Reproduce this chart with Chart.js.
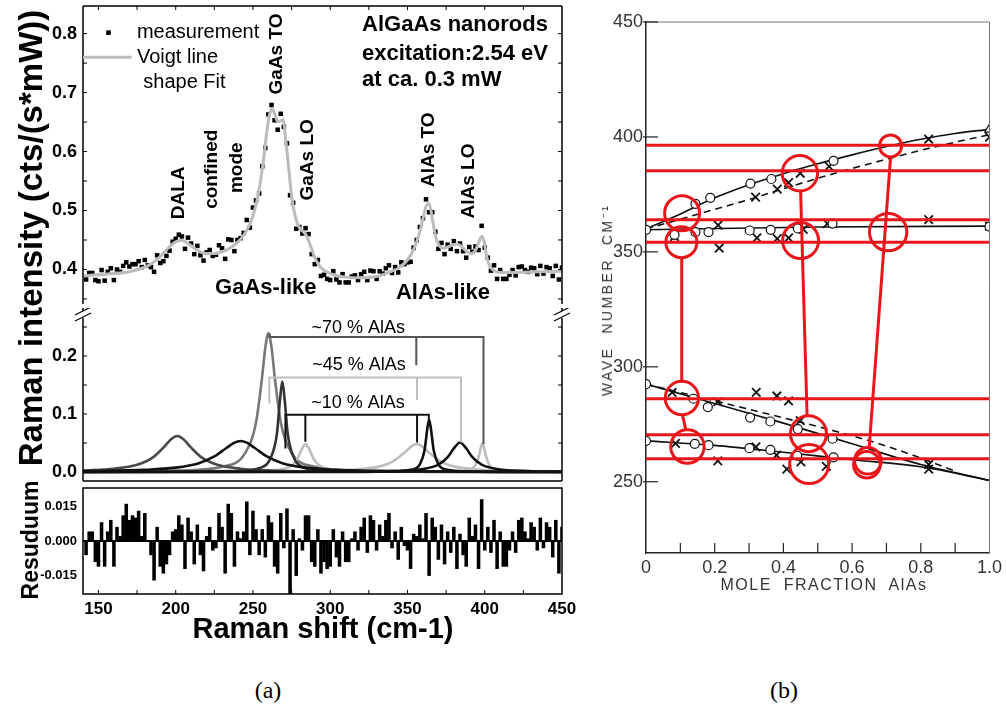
<!DOCTYPE html>
<html>
<head>
<meta charset="utf-8">
<script src="https://cdn.jsdelivr.net/npm/chart.js@4.4.1/dist/chart.umd.min.js"></script>
<style>
html,body{margin:0;padding:0;background:#fff;}
body{width:1006px;height:708px;position:relative;overflow:hidden;font-family:"Liberation Sans",Arial,sans-serif;}
canvas{position:absolute;}
.t{position:absolute;white-space:pre;transform:translate(-50%,-50%);color:#000;line-height:1;}
.v{transform:translate(-50%,-50%) rotate(-90deg);}
</style>
</head>
<body>
<canvas id="cTop" width="600" height="308" style="left:0;top:0;width:600px;height:308px"></canvas>
<canvas id="cMid" width="600" height="176" style="left:0;top:308px;width:600px;height:176px"></canvas>
<canvas id="cRes" width="600" height="164" style="left:0;top:486px;width:600px;height:164px"></canvas>
<canvas id="cB" width="450" height="600" style="left:560px;top:0;width:450px;height:600px"></canvas>
<div class="t v" style="left:30px;top:238px;font-weight:bold;font-size:33px">Raman intensity (cts/(s*mW))</div>
<div class="t v" style="left:30px;top:540px;font-weight:bold;font-size:23px">Resuduum</div>
<div class="t" style="left:323px;top:628px;font-weight:bold;font-size:29px">Raman shift (cm-1)</div>
<div class="t v" style="left:607px;top:300px;font-size:14px;letter-spacing:2.5px;color:#333">WAVE  NUMBER  CM⁻¹</div>
<div class="t" style="left:824px;top:585px;font-size:16px;letter-spacing:1.5px;color:#333">MOLE  FRACTION  AlAs</div>
<div class="t" style="left:268px;top:690px;font-family:'Liberation Serif',serif;font-size:24px">(a)</div>
<div class="t" style="left:784px;top:690px;font-family:'Liberation Serif',serif;font-size:24px">(b)</div>
<script>
// ================= DATA: panel (a) =================
const measX=[142,144,146,148,150,152,154,156,158,160,162,164,166,168,170,172,174,176,178,180,182,184,186,188,190,192,194,196,198,200,202,204,206,208,210,212,214,216,218,220,222,224,226,228,230,232,234,236,238,240,242,244,246,248,250,252,254,256,258,260,262,264,266,268,270,272,274,276,278,280,282,284,286,288,290,292,294,296,298,300,302,304,306,308,310,312,314,316,318,320,322,324,326,328,330,332,334,336,338,340,342,344,346,348,350,352,354,356,358,360,362,364,366,368,370,372,374,376,378,380,382,384,386,388,390,392,394,396,398,400,402,404,406,408,410,412,414,416,418,420,422,424,426,428,430,432,434,436,438,440,442,444,446,448,450];
const measY=[0.383,0.394,0.394,0.382,0.380,0.399,0.381,0.396,0.402,0.382,
0.400,0.396,0.406,0.412,0.405,0.409,0.409,0.414,0.404,0.416,
0.407,0.404,0.396,0.424,0.411,0.414,0.423,0.432,0.447,0.452,
0.459,0.456,0.435,0.454,0.444,0.426,0.440,0.424,0.415,0.429,
0.433,0.423,0.425,0.441,0.436,0.418,0.451,0.450,0.431,0.450,
0.453,0.462,0.484,0.471,0.505,0.517,0.529,0.575,0.606,0.663,
0.679,0.653,0.637,0.664,0.642,0.614,0.526,0.513,0.469,0.472,
0.461,0.470,0.460,0.426,0.409,0.416,0.389,0.391,0.384,0.382,
0.397,0.383,0.378,0.392,0.378,0.378,0.388,0.390,0.382,0.392,
0.396,0.382,0.398,0.397,0.384,0.397,0.393,0.402,0.407,0.394,
0.404,0.395,0.412,0.409,0.412,0.413,0.437,0.450,0.472,0.487,
0.519,0.497,0.497,0.464,0.435,0.445,0.426,0.442,0.435,0.448,
0.431,0.444,0.431,0.420,0.438,0.430,0.439,0.433,0.474,0.437,
0.420,0.398,0.407,0.384,0.399,0.384,0.384,0.391,0.399,0.390,
0.404,0.405,0.399,0.396,0.403,0.402,0.392,0.406,0.393,0.404,
0.402,0.389,0.406,0.383,0.403];
const fitX=[140,150,160,170,180,185,190,195,200,204,208,212,216,220,225,230,235,240,244,248,251,254,257,259,261,262.5,264,266,268,269.5,271,273,275,277,279,281,283,285,287,290,294,300,310,320,330,340,345,350,354,357,360,362,364,366,368,370,373,376,379,382,385,388,391,394,396,398,399.5,401,403,406,410,420,435,450];
const fitY=[0.389,0.391,0.393,0.396,0.404,0.411,0.422,0.436,0.447,0.449,0.444,0.436,0.430,0.427,0.427,0.430,0.436,0.446,0.458,0.477,0.500,0.535,0.590,0.635,0.665,0.673,0.664,0.651,0.652,0.654,0.625,0.575,0.525,0.494,0.476,0.468,0.463,0.455,0.442,0.420,0.403,0.393,0.387,0.386,0.388,0.397,0.404,0.416,0.434,0.455,0.486,0.507,0.512,0.487,0.458,0.443,0.436,0.438,0.441,0.443,0.439,0.431,0.427,0.432,0.445,0.456,0.449,0.425,0.407,0.398,0.395,0.395,0.396,0.397];
const resY=[-0.006,0.004,0.004,-0.009,-0.011,0.008,-0.011,0.004,0.009,-0.011,
0.006,0.002,0.011,0.016,0.009,0.011,0.010,0.013,0.002,0.012,
0.000,-0.006,-0.017,0.006,-0.011,-0.014,-0.010,-0.006,0.004,0.005,
0.011,0.007,-0.012,0.010,0.004,-0.010,0.007,-0.006,-0.013,0.002,
0.006,-0.004,-0.003,0.012,0.006,-0.014,0.016,0.012,-0.011,0.004,
0.001,0.004,0.017,-0.006,0.013,0.005,-0.006,0.005,-0.007,0.011,
0.008,-0.011,-0.014,0.012,-0.003,0.014,-0.024,0.005,-0.015,0.001,
-0.004,0.011,0.011,-0.009,-0.011,0.005,-0.014,-0.009,-0.012,-0.011,
0.005,-0.007,-0.011,0.004,-0.009,-0.009,0.001,0.004,-0.004,0.006,
0.010,-0.005,0.011,0.009,-0.004,0.007,0.002,0.009,0.012,-0.003,
0.004,-0.008,0.006,-0.002,-0.004,-0.012,0.003,0.002,0.007,0.001,
0.012,-0.015,0.010,0.006,-0.008,0.007,-0.010,0.004,-0.005,0.006,
-0.012,0.003,-0.006,-0.011,0.010,0.002,0.007,-0.012,0.018,-0.004,
0.006,-0.005,0.009,-0.012,0.004,-0.011,-0.011,-0.004,0.004,-0.005,
0.009,0.010,0.004,0.001,0.008,0.006,-0.004,0.010,-0.003,0.008,
0.006,-0.007,0.009,-0.014,0.006];
// fitted components (middle)
const cDalaX=[140,160,175,185,192,197,201,205,210,217,227,242,262,300,350,450];
const cDalaY=[0.0027,0.0057,0.0124,0.0247,0.0419,0.0566,0.062,0.0566,0.0419,0.0247,0.0124,0.0057,0.0027,0.001,0.0005,0.0002];
const cConfX=[140,180,200,215,225,233,238,242,246,251,259,269,284,304,344,450];
const cConfY=[0.0014,0.0037,0.0075,0.0152,0.0268,0.0418,0.0507,0.0535,0.0507,0.0418,0.0268,0.0152,0.0075,0.0037,0.0014,0.0004];
const cTO1X=[140,200,230,245,252,256,258,260,262,264,268,275,290,320,380,450];
const cTO1Y=[0.0006,0.0024,0.0092,0.033,0.086,0.1655,0.215,0.239,0.215,0.1655,0.086,0.033,0.0092,0.0024,0.0006,0.0003];
const cTO2X=[140,240,255,262,265.5,267.5,269,270.5,272.5,276,283,298,330,450];
const cTO2Y=[0.0001,0.0017,0.0073,0.0274,0.066,0.125,0.156,0.125,0.066,0.0274,0.0073,0.0017,0.0004,0.0001];
const cTO3X=[140,250,270,276,279,282,284,286,289,292,298,318,450];
const cTO3Y=[0.0001,0.001,0.0054,0.0135,0.024,0.0414,0.048,0.0414,0.024,0.0135,0.0054,0.001,0.0001];
const cAl1X=[140,280,310,330,340,348,353,356,359,364,372,382,402,432,450];
const cAl1Y=[0.0001,0.0012,0.0031,0.0084,0.0173,0.0332,0.0452,0.048,0.0452,0.0332,0.0173,0.0084,0.0031,0.0012,0.0008];
const cAl2X=[140,300,340,352,358,361,363,364,365,367,370,376,388,428,450];
const cAl2Y=[0,0.0001,0.001,0.0037,0.0133,0.0369,0.0776,0.09,0.0776,0.0369,0.0133,0.0037,0.001,0.0001,0.0001];
const cAl3X=[140,300,340,360,370,376,380,384,388,392,398,408,428,450];
const cAl3Y=[0.0001,0.0005,0.0016,0.0051,0.0126,0.0255,0.0408,0.051,0.0408,0.0255,0.0126,0.0051,0.0016,0.0008];
const cAl4X=[140,380,390,394,396.5,398.5,400.5,403,407,417,450];
const cAl4Y=[0,0.0009,0.004,0.0118,0.0305,0.05,0.0305,0.0118,0.004,0.0009,0.0001];
// composition brackets
const b70X=[260.8,260.8,399.2,399.2], b70Y=[0.239,0.2327,0.2327,0.048];
const b70mX=[355.7,355.7], b70mY=[0.2327,0.184];
const b45X=[260.6,260.6,384.6,384.6], b45Y=[0.118,0.163,0.163,0.051];
const b45mX=[356.2,356.2], b45mY=[0.163,0.124];
const b10X=[271,271,363.8,363.8], b10Y=[0.0406,0.0986,0.0986,0.089];
const b10m1X=[283.9,283.9], b10m1Y=[0.0986,0.052];
const b10m2X=[356.2,356.2], b10m2Y=[0.0986,0.051];
// tick values
const xTicksA=[150,200,250,300,350,400,450];
const xMinorA=[150,175,200,225,250,275,300,325,350,375,400,425];
const topTicks=[0.4,0.5,0.6,0.7,0.8];
const topMinor=[0.35,0.4,0.45,0.5,0.55,0.6,0.65,0.7,0.75,0.8];
const midTicks=[0.0,0.1,0.2];
const midMinor=[0.05,0.1,0.15,0.2,0.25];
const resTicks=[-0.015,0,0.015];
// ================= DATA: panel (b) =================
const upSolidX=[0,0.1,0.2,0.3,0.4,0.5,0.6,0.7,0.8,0.9,1.0];
const upSolidY=[360,366.5,373.5,379.2,384,388.3,392.2,395.8,399,401.5,403.3];
const upDashX=[0,0.1,0.2,0.3,0.4,0.5,0.6,0.7,0.8,0.9,1.0];
const upDashY=[360,364.2,368.5,372.8,377.5,382,386.3,390.3,394.2,397.7,401];
const flatX=[0,0.5,1.0], flatY=[359.6,360.8,361.2];
const toSolidX=[0,0.2,0.4,0.6,0.8,1.0], toSolidY=[292.5,284,275.5,266.5,257.5,250.6];
const toDashX=[0,0.1,0.2,0.3,0.4,0.5,0.6,0.7,0.8,0.9], toDashY=[292.5,288.8,285.2,281.5,277.8,274,270,265.5,260.3,254.6];
const loSolidX=[0,0.2,0.4,0.6,0.8,1.0], loSolidY=[267.8,265.8,262.8,259.6,256.5,250.6];
const openX=[0.144,0.187,0.304,0.365,0.546, 0.0,0.083,0.144,0.182,0.302,0.363,0.442,0.543,1.0, 0.0,0.138,0.18,0.303,0.362,0.442,0.543, 0.0,0.142,0.182,0.301,0.362,0.44,0.546];
const openY=[370.9,373.5,379.7,381.7,389.6, 359.6,357.4,358.6,358.6,359.3,359.6,360.2,362.3,361.0, 292.5,286.1,282.5,277.9,276.2,272.9,268.7, 267.8,266.5,265.9,264.6,263.9,261.3,260.6];
const crossX=[0.319,0.382,0.415,0.449,0.533,0.823,1.0, 0.083,0.21,0.213,0.323,0.382,0.415,0.458,0.528,0.823,1.0, 0.076,0.209,0.321,0.381,0.415,0.449,0.823, 0.086,0.209,0.32,0.38,0.41,0.451,0.525,0.823];
const crossY=[373.8,377.3,380.1,384.2,387.2,399,399.9, 356.6,361.6,351.6,356.1,355.8,356.1,359.8,362.3,364.0,361.2, 288.9,284.8,288.9,287.3,285.2,276.6,257.5, 266.7,259.1,265.2,261.6,255.5,258.6,256.7,255.5];
const triX=[1.0], triY=[403.3];
const redLevels=[396.4,385.3,364.0,354.2,286.1,270.4,260.0];
const redLinkX=[[0.104,0.104],[0.106,0.116],[0.450,0.469],[0.712,0.650]];
const redLinkY=[[347.5,293.7],[279.1,272.6],[377,278.5],[391.4,265.3]];
const redCircX=[0.105,0.103,0.448,0.450,0.712,0.705,0.1045,0.1206,0.473,0.475,0.646,0.643];
const redCircY=[366.8,354.2,384.2,354.9,396.1,358.6,286.4,265.3,270.9,257.7,259.1,257.4];
const bXTicks=[0,0.2,0.4,0.6,0.8,1.0];
const bXMinor=[0.1,0.2,0.3,0.4,0.5,0.6,0.7,0.8,0.9];
const bYTicks=[250,300,350,400,450];

// ================= STYLE =================
const redCircR=[17.5,15.5,17.7,18,11,18.7,16.7,16.7,18,19.5,13.3,13.3];
const RED='#e8161b';
const F='"Liberation Sans", Arial, sans-serif';
const PADR=38;   // right padding of panel (a) charts
Chart.defaults.font.family=F;
const pts=(xs,ys)=>xs.map((x,i)=>({x:x,y:ys[i]}));
const setTicks=arr=>(s=>{s.ticks=arr.map(v=>({value:v}));});
const base=()=>({responsive:false,animation:false,devicePixelRatio:1,events:[],
  plugins:{legend:{display:false},tooltip:{enabled:false}}});
function ln(ctx,x1,y1,x2,y2){ctx.beginPath();ctx.moveTo(x1,y1);ctx.lineTo(x2,y2);ctx.stroke();}
function txt(ctx,t,x,y,font,align,rot){ctx.save();ctx.font=font;ctx.fillStyle='#000';ctx.textAlign=align||'center';ctx.textBaseline='middle';ctx.translate(x,y);if(rot)ctx.rotate(-Math.PI/2);ctx.fillText(t,0,0);ctx.restore();}
const yAxisA=(min,max,ticks,size,fmt)=>({type:'linear',min:min,max:max,
  afterFit:s=>{s.width=83;s.paddingTop=0;s.paddingBottom=0;},afterBuildTicks:setTicks(ticks),
  ticks:{font:{family:F,size:size,weight:'bold'},color:'#000',padding:6,callback:fmt},
  grid:{display:false,drawTicks:false},border:{display:false}});

// ---------- top spectrum ----------
new Chart(document.getElementById('cTop'),{
  type:'line',
  data:{datasets:[
    {data:pts(fitX,fitY),borderColor:'#bcbcbc',borderWidth:3,pointRadius:0,cubicInterpolationMode:'monotone',fill:false},
    {data:pts(measX,measY),showLine:false,pointStyle:'rect',pointRadius:3.2,pointBackgroundColor:'#000',pointBorderColor:'#000',pointBorderWidth:0}
  ]},
  options:Object.assign(base(),{
    layout:{padding:{top:6,right:PADR,bottom:0,left:0}},
    scales:{x:{type:'linear',min:140,max:450,display:false},
            y:yAxisA(0.3414,0.8469,topTicks,18,v=>v.toFixed(1))}
  }),
  plugins:[{id:'topDeco',afterDraw(c){
    const ctx=c.ctx,a=c.chartArea,x=c.scales.x,y=c.scales.y;
    ctx.save();ctx.strokeStyle='#000';ctx.lineWidth=1.5;
    ln(ctx,a.left,a.top,a.right,a.top);ln(ctx,a.left,a.top,a.left,a.bottom);ln(ctx,a.right,a.top,a.right,a.bottom);
    ctx.lineWidth=1;
    xMinorA.forEach(v=>{const p=x.getPixelForValue(v);ln(ctx,p,a.top,p,a.top+4);});
    topMinor.forEach(v=>{const p=y.getPixelForValue(v);ln(ctx,a.left,p,a.left+4,p);ln(ctx,a.right,p,a.right-4,p);});
    const X=v=>x.getPixelForValue(v),Y=v=>y.getPixelForValue(v);
    const bf='bold 19px '+F;
    txt(ctx,'DALA',X(201.8),Y(0.53),bf,'center',true);
    txt(ctx,'confined',X(223.5),Y(0.57),bf,'center',true);
    txt(ctx,'mode',X(239.4),Y(0.5725),bf,'center',true);
    txt(ctx,'GaAs TO',X(265.2),Y(0.7655),bf,'center',true);
    txt(ctx,'GaAs LO',X(285.7),Y(0.586),bf,'center',true);
    txt(ctx,'AlAs TO',X(364),Y(0.603),bf,'center',true);
    txt(ctx,'AlAs LO',X(389.9),Y(0.55),bf,'center',true);
    txt(ctx,'GaAs-like',X(258.3),Y(0.368),'bold 22px '+F,'center');
    txt(ctx,'AlAs-like',X(373),Y(0.360),'bold 22px '+F,'center');
    const hf='bold 22px '+F;
    txt(ctx,'AlGaAs nanorods',X(320.6),Y(0.8155),hf,'left');
    txt(ctx,'excitation:2.54 eV',X(320.6),Y(0.7655),hf,'left');
    txt(ctx,'at ca. 0.3 mW',X(320.6),Y(0.721),hf,'left');
    // legend
    const lf='20px '+F;
    ctx.fillStyle='#000';ctx.fillRect(X(156.5)-2.3,Y(0.8017)-2.3,4.6,4.6);
    txt(ctx,'measurement',X(174.9),Y(0.802),lf,'left');
    ctx.strokeStyle='#bcbcbc';ctx.lineWidth=3;ln(ctx,a.left,Y(0.76),X(171.4),Y(0.76));
    txt(ctx,'Voigt line',X(174.9),Y(0.76),lf,'left');
    txt(ctx,'shape Fit',X(179),Y(0.718),lf,'left');
    ctx.restore();
  }}]
});

// ---------- middle: components ----------
const comp=(xs,ys,col)=>({data:pts(xs,ys),borderColor:col,borderWidth:2.6,pointRadius:0,cubicInterpolationMode:'monotone',fill:false});
const brk=(xs,ys,col)=>({data:pts(xs,ys),borderColor:col,borderWidth:2,pointRadius:0,tension:0,fill:false});
new Chart(document.getElementById('cMid'),{
  type:'line',
  data:{datasets:[
    brk(b10X,b10Y,'#111'),brk(b10m1X,b10m1Y,'#111'),brk(b10m2X,b10m2Y,'#111'),
    brk(b70X,b70Y,'#555'),brk(b70mX,b70mY,'#555'),
    brk(b45X,b45Y,'#bdbdbd'),brk(b45mX,b45mY,'#bdbdbd'),
    comp(cAl2X,cAl2Y,'#111'),comp(cAl3X,cAl3Y,'#111'),comp(cConfX,cConfY,'#111'),
    comp(cTO2X,cTO2Y,'#333'),comp(cDalaX,cDalaY,'#4a4a4a'),
    comp(cTO3X,cTO3Y,'#bdbdbd'),comp(cAl1X,cAl1Y,'#bdbdbd'),comp(cAl4X,cAl4Y,'#bdbdbd'),
    comp(cTO1X,cTO1Y,'#777')
  ]},
  options:Object.assign(base(),{
    layout:{padding:{top:0,right:PADR,bottom:3,left:0}},
    scales:{x:{type:'linear',min:140,max:450,display:false},
            y:yAxisA(-0.0155,0.2828,midTicks,18,v=>v.toFixed(1))}
  }),
  plugins:[{id:'midDeco',afterDraw(c){
    const ctx=c.ctx,a=c.chartArea,x=c.scales.x,y=c.scales.y;
    ctx.save();ctx.strokeStyle='#000';ctx.lineWidth=1.5;
    ln(ctx,a.left,a.top,a.left,a.bottom);ln(ctx,a.right,a.top,a.right,a.bottom);ln(ctx,a.left,a.bottom,a.right,a.bottom);
    ctx.lineWidth=1;
    midMinor.forEach(v=>{const p=y.getPixelForValue(v);ln(ctx,a.left,p,a.left+4,p);ln(ctx,a.right,p,a.right-4,p);});
    [a.left,a.right].forEach(px=>{
      ctx.fillStyle='#fff';ctx.fillRect(px-2,a.top+3,4,7);
      ctx.strokeStyle='#000';ctx.lineWidth=1.2;
      ln(ctx,px-8,a.top+7,px+8,a.top-1);ln(ctx,px-8,a.top+13,px+8,a.top+5);
    });
    const X=v=>x.getPixelForValue(v),Y=v=>y.getPixelForValue(v);
    const f='18px '+F;
    txt(ctx,'~70 % AlAs',X(318.2),Y(0.249),f,'center');
    txt(ctx,'~45 % AlAs',X(318.6),Y(0.185),f,'center');
    txt(ctx,'~10 % AlAs',X(318),Y(0.119),f,'center');
    ctx.restore();
  }}]
});

// ---------- residual ----------
new Chart(document.getElementById('cRes'),{
  type:'bar',
  data:{datasets:[
    {type:'line',data:[{x:140,y:0},{x:450,y:0}],borderColor:'#000',borderWidth:2,pointRadius:0},
    {type:'bar',data:pts(measX,resY),backgroundColor:'#000',barThickness:2.9}
  ]},
  options:Object.assign(base(),{
    layout:{padding:{top:2,right:PADR,bottom:0,left:0}},
    scales:{
      x:{type:'linear',min:140,max:450,offset:false,afterFit:s=>{s.height=56;s.paddingLeft=0;s.paddingRight=0;},afterBuildTicks:setTicks(xTicksA),
         ticks:{font:{family:F,size:17,weight:'bold'},color:'#000',padding:5,maxRotation:0,autoSkip:false},
         grid:{display:false,drawTicks:false},border:{display:false}},
      y:yAxisA(-0.023,0.023,resTicks,13,v=>(v===0?'0.000':v.toFixed(3)))
    }
  }),
  plugins:[{id:'resDeco',afterDraw(c){
    const ctx=c.ctx,a=c.chartArea,x=c.scales.x;
    ctx.save();ctx.strokeStyle='#000';ctx.lineWidth=1.5;
    ctx.strokeRect(a.left,a.top,a.right-a.left,a.bottom-a.top);
    ctx.lineWidth=1;
    xMinorA.forEach(v=>{const p=x.getPixelForValue(v);ln(ctx,p,a.bottom,p,a.bottom-4);});
    ctx.restore();
  }}]
});

// ---------- panel (b) ----------
const bLine=(xs,ys,dash)=>({data:pts(xs,ys),borderColor:'#111',borderWidth:1.6,borderDash:dash||[],pointRadius:0,cubicInterpolationMode:'monotone',fill:false});
const bDatasets=[];
bDatasets.push({data:pts(redCircX,redCircY),showLine:false,pointStyle:'circle',pointRadius:redCircR,pointBorderColor:RED,pointBorderWidth:3,pointBackgroundColor:'rgba(0,0,0,0)'});
redLinkX.forEach((xs,i)=>bDatasets.push({data:pts(xs,redLinkY[i]),borderColor:RED,borderWidth:3,pointRadius:0,tension:0}));
redLevels.forEach(v=>bDatasets.push({data:[{x:0,y:v},{x:1,y:v}],borderColor:RED,borderWidth:3,pointRadius:0,tension:0}));
bDatasets.push({data:pts(openX,openY),showLine:false,pointStyle:'circle',pointRadius:4.5,pointBorderColor:'#111',pointBorderWidth:1.2,pointBackgroundColor:'#fff'});
bDatasets.push({data:pts(crossX,crossY),showLine:false,pointStyle:'crossRot',pointRadius:6,pointBorderColor:'#111',pointBorderWidth:1.8});
bDatasets.push({data:pts(triX,triY),showLine:false,pointStyle:'triangle',pointRadius:5.5,pointBorderColor:'#111',pointBorderWidth:1.2,pointBackgroundColor:'#fff'});
bDatasets.push(bLine(upSolidX,upSolidY));
bDatasets.push(bLine(upDashX,upDashY,[7,5]));
bDatasets.push(bLine(flatX,flatY));
bDatasets.push(bLine(toSolidX,toSolidY));
bDatasets.push(bLine(toDashX,toDashY,[7,5]));
bDatasets.push(bLine(loSolidX,loSolidY));

new Chart(document.getElementById('cB'),{
  type:'line',
  data:{datasets:bDatasets},
  options:Object.assign(base(),{
    layout:{padding:{top:22,right:13,bottom:0,left:0}},
    scales:{
      x:{type:'linear',min:0,max:1,afterFit:s=>{s.height=47;s.paddingLeft=0;s.paddingRight=0;},afterBuildTicks:setTicks(bXTicks),
         ticks:{font:{family:F,size:18},color:'#333',padding:4,maxRotation:0,autoSkip:false,callback:v=>(v===0?'0':v.toFixed(1))},
         grid:{display:false,drawTicks:false},border:{display:true,color:'#222',width:1.5}},
      y:{type:'linear',min:219,max:450,afterFit:s=>{s.width=86;s.paddingTop=0;s.paddingBottom=0;},afterBuildTicks:setTicks(bYTicks),
         ticks:{font:{family:F,size:18},color:'#333',padding:3,callback:v=>String(v)},
         grid:{display:false,drawTicks:false},border:{display:true,color:'#222',width:1.5}}
    }
  }),
  plugins:[{id:'bDeco',afterDraw(c){
    const ctx=c.ctx,a=c.chartArea,x=c.scales.x,y=c.scales.y;
    ctx.save();ctx.strokeStyle='#777';ctx.lineWidth=1;
    ln(ctx,a.left,a.top,a.right,a.top);ln(ctx,a.right,a.top,a.right,a.bottom);
    ctx.strokeStyle='#222';ctx.lineWidth=1.2;
    bXMinor.forEach(v=>{const p=x.getPixelForValue(v);ln(ctx,p,a.bottom,p,a.bottom-10);});
    bYTicks.forEach(v=>{const p=y.getPixelForValue(v);ln(ctx,a.left-3,p,a.left+12,p);});
    ctx.restore();
  }}]
});
</script>
</body>
</html>
